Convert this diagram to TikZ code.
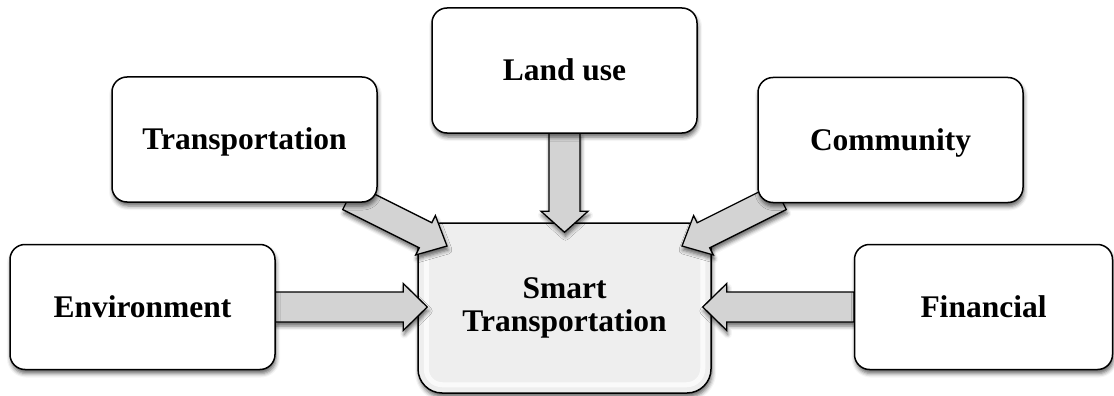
\documentclass[tikz,border=0pt]{standalone}
\usepackage{fontspec}
\setmainfont{Liberation Serif}
\usetikzlibrary{calc,shadows.blur}
\definecolor{hubgray}{RGB}{238,238,238}
\definecolor{arrowgray}{RGB}{211,211,211}
\tikzset{
  softshadow/.style={blur shadow={shadow xshift=1pt, shadow yshift=-4pt, shadow blur radius=4pt, shadow opacity=60}},
  box/.style={draw=black, line width=1.5pt, rounded corners=15pt, fill=white,
    minimum width=265pt, minimum height=125pt, inner sep=0pt, softshadow,
    font=\bfseries\fontsize{31.5}{33}\selectfont, text height=20.5pt, text depth=0pt},
  hub/.style={draw=black, line width=1.5pt, rounded corners=24pt, fill=hubgray,
    minimum width=293pt, minimum height=170pt, inner sep=0pt, softshadow,
    font=\bfseries\fontsize{31.5}{33}\selectfont, align=center},
  gloss/.style={draw=white, line width=5pt, opacity=0.75, rounded corners=16pt, line cap=round},
  fat/.style={draw=black, line width=1.3pt, fill=arrowgray, line join=miter, softshadow}
}
\newcommand\fatarrow[5]{%
  \draw[fat] ($(#1)!#3!90:(#2)$) -- ($($(#2)!#5!(#1)$)!#3!90:(#2)$)
    -- ($($(#2)!#5!(#1)$)!#4!90:(#2)$) -- (#2)
    -- ($($(#2)!#5!(#1)$)!#4!-90:(#2)$) -- ($($(#2)!#5!(#1)$)!#3!-90:(#2)$)
    -- ($(#1)!#3!-90:(#2)$) -- cycle;}
\begin{document}
\begin{tikzpicture}[x=1pt,y=-1pt]
\useasboundingbox (0,0) rectangle (1114,396);
\node[hub] (hub) at (564.5,308) {Smart\\Transportation};
\draw[gloss] ($(hub.west)+(9,-50)$) -- ($(hub.south west)+(9,-9)$)
  -- ($(hub.south east)+(-9,-9)$) -- ($(hub.east)+(-9,-50)$);
% arrow ends
\coordinate (lus) at (564.5,133);
\coordinate (lut) at ($(hub.north)+(0,10)$);
\coordinate (trs) at (349,197);
\coordinate (trt) at (447,246);
\coordinate (cos) at (780,197);
\coordinate (cot) at (682,246);
\coordinate (ens) at (275,307);
\coordinate (ent) at ($(hub.west)+(10,-1)$);
\coordinate (fis) at (854,307);
\coordinate (fit) at ($(hub.east)+(-9,-1)$);
\fatarrow{lus}{lut}{15.5pt}{23.5pt}{21pt}
\fatarrow{trs}{trt}{14pt}{22pt}{24pt}
\fatarrow{cos}{cot}{14pt}{22pt}{24pt}
\fatarrow{ens}{ent}{15pt}{23.5pt}{24pt}
\fatarrow{fis}{fit}{15pt}{23.5pt}{24pt}
\node[box] (lu) at (564.5,70.5) {Land use};
\node[box] (tr) at (244.5,139.5) {Transportation};
\node[box] (co) at (890.5,140) {Community};
\node[box] (en) at (142.5,307) {Environment};
\node[box, minimum width=258pt] (fi) at (983.5,307) {Financial};
\end{tikzpicture}
\end{document}
